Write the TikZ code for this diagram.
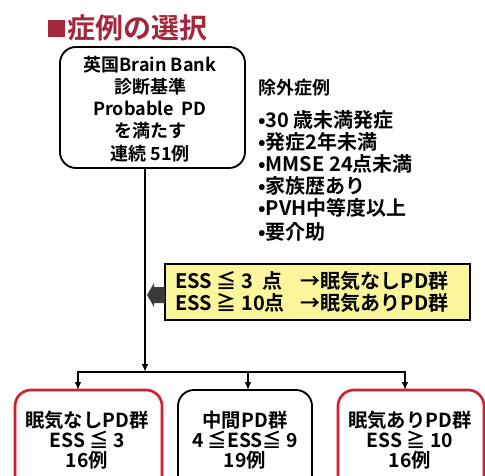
\documentclass[tikz,border=0pt]{standalone}
\usepackage{fontspec}
\setmainfont{Noto Sans CJK JP}[BoldFont={Noto Sans CJK JP Bold}]
\usetikzlibrary{arrows.meta}
\definecolor{titlered}{HTML}{A3283C}
\definecolor{boxred}{HTML}{D3202E}
\definecolor{yel}{HTML}{FBF59C}
\definecolor{arrgray}{HTML}{3A3A3A}
\tikzset{
  txt/.style={font=\bfseries\fontsize{13.5pt}{16.6pt}\selectfont, inner sep=0pt},
  listtxt/.style={font=\bfseries\fontsize{15pt}{16.6pt}\selectfont, inner sep=0pt},
  grptxt/.style={font=\bfseries\fontsize{14.5pt}{15.2pt}\selectfont, inner sep=0pt},
  topbox/.style={draw, line width=1.4pt, rounded corners=12pt},
  redbox/.style={draw=boxred, line width=2pt, rounded corners=12pt},
  blackbox/.style={draw, line width=1.4pt, rounded corners=12pt},
  conn/.style={line width=1.2pt},
  arr/.style={line width=1.2pt, -{Latex[length=6pt,width=5pt]}},
}
\begin{document}
\begin{tikzpicture}[x=0.75pt,y=-0.75pt]
\useasboundingbox (0,0) rectangle (485,475);
\clip (0,0) rectangle (485,475);
% title
\fill[titlered] (48,20) rectangle (65,37);
\node[anchor=west, inner sep=0pt, text=titlered, font=\bfseries\fontsize{21pt}{24pt}\selectfont] (title) at (67,28) {症例の選択};
% top box
\draw[topbox] (60,47) rectangle (245,168);
\node[txt, align=center] (top) at (150,109) {英国Brain Bank\\診断基準\\Probable\ \ PD\\を満たす\\連続 51例};
\coordinate (topS) at (145,168);
% exclusion list
\node[txt, anchor=west] (exh) at (258,88) {除外症例};
\node[listtxt, anchor=north west, align=left] (exl) at (258,110) {•30 歳未満発症\\•発症2年未満\\•MMSE 24点未満\\•家族歴あり\\•PVH中等度以上\\[1pt]•要介助};
% yellow box
\draw[fill=yel, line width=1.5pt] (165,264) rectangle (470,320);
\node[listtxt, anchor=west] (ess) at (175,294) {\begin{tabular}{@{}l@{\hspace{12pt}}l@{}}ESS ≦ 3\ \ 点 & →眠気なしPD群\\[-1pt] ESS ≧ 10点 & →眠気ありPD群\end{tabular}};
% block arrow
\fill[arrgray] (165,287) -- (154,287) -- (154,283) -- (147,295) -- (154,307) -- (154,303) -- (165,303) -- cycle;
% connectors
\coordinate (hmid) at (145,372);
\coordinate (hl) at (78,372);
\coordinate (hr) at (405,372);
\draw[arr] (topS) -- (hmid);
\draw[conn] (hl) -- (hr);
% bottom boxes
\draw[redbox] (15,390) rectangle (162,500);
\draw[blackbox] (178,390) rectangle (312,500);
\draw[redbox] (338,390) rectangle (484,500);
\coordinate (b1) at (78,390);
\coordinate (b2) at (248,390);
\coordinate (b3) at (405,390);
\draw[arr] ([yshift=0.6pt]hl) -- (b1);
\draw[arr] (248,372) -- (b2);
\draw[arr] ([yshift=0.6pt]hr) -- (b3);
\node[grptxt, align=center] (g1) at (87,440) {眠気なしPD群\\ESS ≦ 3\\16例};
\node[grptxt, align=center] (g2) at (245,440) {中間PD群\\4 ≦ESS≦ 9\\19例};
\node[grptxt, align=center] (g3) at (410,440) {眠気ありPD群\\ESS ≧ 10\\16例};
\end{tikzpicture}
\end{document}
